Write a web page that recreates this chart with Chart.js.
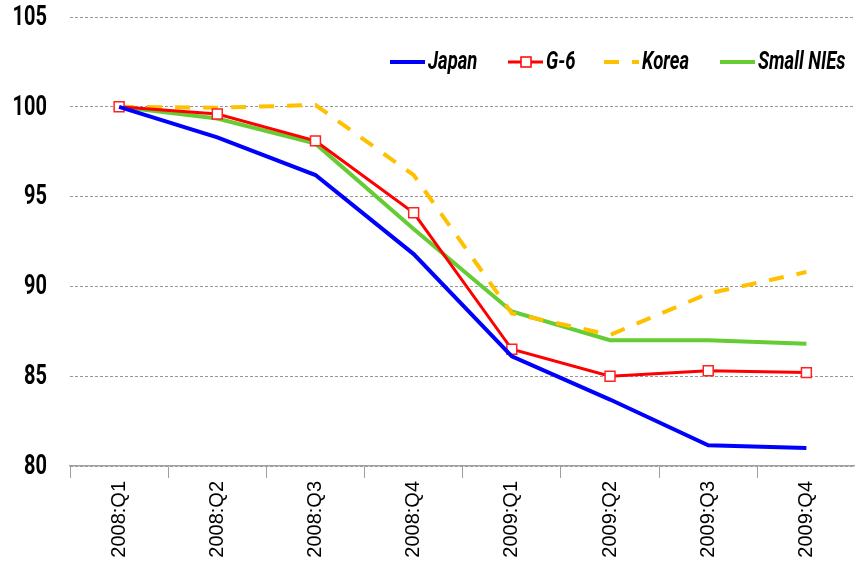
<!DOCTYPE html>
<html lang="en">
  <head>
    <meta charset="UTF-8" />
    <title>Quarterly index, 2008:Q1 = 100</title>
    <style>
      html, body {
        margin: 0;
        padding: 0;
        overflow: hidden;
        background: #fff;
      }
    </style>
  </head>
  <body>
    <canvas id="indexChart" width="864" height="563"></canvas>
    <script src="https://cdn.jsdelivr.net/npm/chart.js"></script>
    <script>
      const quarters = ["2008:Q1", "2008:Q2", "2008:Q3", "2008:Q4", "2009:Q1", "2009:Q2", "2009:Q3", "2009:Q4"];
      const japan = [100, 98.3, 96.2, 91.8, 86.1, 83.7, 81.15, 81.0];
      const g6 = [100, 99.6, 98.1, 94.1, 86.5, 85.0, 85.3, 85.2];
      const korea = [100, 99.95, 100.1, 96.2, 88.5, 87.3, 89.6, 90.8];
      const smallNIEs = [100, 99.35, 97.95, 93.2, 88.6, 87.0, 87.0, 86.8];
      const yTicks = [80, 85, 90, 95, 100, 105];

      // no condensed face installed, so squeeze Roboto horizontally
      function narrowText(ctx, text, x, y, font, squeeze, align) {
        ctx.save();
        ctx.font = font;
        ctx.textBaseline = "middle";
        ctx.textAlign = align;
        ctx.translate(x, y);
        ctx.scale(squeeze, 1);
        ctx.fillText(text, 0, 0);
        ctx.restore();
      }

      const legendItems = [
        { text: "Japan", x: 390, color: "#0000ff", width: 4, dash: [], marker: false },
        { text: "G-6", x: 508, color: "#ff0000", width: 3, dash: [], marker: true },
        { text: "Korea", x: 604, color: "#ffc000", width: 4, dash: [15, 13], marker: false },
        { text: "Small NIEs", x: 720, color: "#66cc33", width: 4, dash: [], marker: false },
      ];

      const labelPlugin = {
        id: "handLabels",
        afterDraw(chart) {
          const ctx = chart.ctx;
          const y = 62;
          ctx.save();
          legendItems.forEach((item) => {
            ctx.beginPath();
            ctx.strokeStyle = item.color;
            ctx.lineWidth = item.width;
            ctx.setLineDash(item.dash);
            ctx.moveTo(item.x, y);
            ctx.lineTo(item.x + 35, y);
            ctx.stroke();
            ctx.setLineDash([]);
            if (item.marker) {
              ctx.fillStyle = "#fff";
              ctx.lineWidth = 1.5;
              ctx.fillRect(item.x + 13, y - 5, 10, 10);
              ctx.strokeRect(item.x + 13, y - 5, 10, 10);
            }
            ctx.fillStyle = "#000";
            narrowText(ctx, item.text, item.x + 38, y + 1, "italic bold 25px Roboto", 0.74, "left");
          });

          // y tick labels
          const yScale = chart.scales.y;
          ctx.fillStyle = "#000";
          yTicks.forEach((v) => {
            narrowText(ctx, String(v), 47, yScale.getPixelForValue(v) + 1, "bold 27px Roboto", 0.74, "right");
          });
          ctx.restore();
        },
      };

      const config = {
        type: "line",
        data: {
          labels: quarters,
          datasets: [
            {
              label: "Japan",
              data: japan,
              borderColor: "#0000ff",
              borderWidth: 4,
              pointRadius: 0,
            },
            {
              label: "G-6",
              data: g6,
              borderColor: "#ff0000",
              borderWidth: 3,
              pointStyle: "rect",
              pointRadius: 7,
              pointBorderWidth: 1.5,
              pointBorderColor: "#ff2020",
              pointBackgroundColor: "#ffffff",
            },
            {
              label: "Korea",
              data: korea,
              borderColor: "#ffc000",
              borderWidth: 4,
              borderDash: [15, 13],
              pointRadius: 0,
            },
            {
              label: "Small NIEs",
              data: smallNIEs,
              borderColor: "#66cc33",
              borderWidth: 4,
              pointRadius: 0,
            },
          ],
        },
        options: {
          responsive: false,
          animation: false,
          layout: { padding: { top: 17, right: 0, left: 0, bottom: 0 } },
          plugins: {
            legend: { display: false },
            tooltip: { enabled: false },
          },
          elements: { line: { tension: 0 } },
          scales: {
            x: {
              offset: true,
              grid: {
                display: true,
                drawOnChartArea: false,
                drawTicks: true,
                tickLength: 12,
                color: "#a0a0a0",
                offset: true,
              },
              border: { display: true, color: "#a0a0a0", width: 1.5 },
              ticks: {
                minRotation: 90,
                maxRotation: 90,
                padding: 3,
                color: "#000",
                font: { family: "Arial, 'Liberation Sans', sans-serif", size: 20 },
              },
              afterFit(scale) {
                scale.height = 97;
              },
            },
            y: {
              min: 80,
              max: 105,
              afterBuildTicks(scale) {
                scale.ticks = yTicks.map((v) => ({ value: v }));
              },
              grid: {
                drawTicks: false,
                color: "#999",
                lineWidth: 1,
              },
              border: { display: false, dash: [3, 2] },
              ticks: { display: false },
              afterFit(scale) {
                scale.width = 70;
              },
            },
          },
        },
        plugins: [labelPlugin],
      };

      new Chart(document.getElementById("indexChart"), config);
    </script>
  </body>
</html>
